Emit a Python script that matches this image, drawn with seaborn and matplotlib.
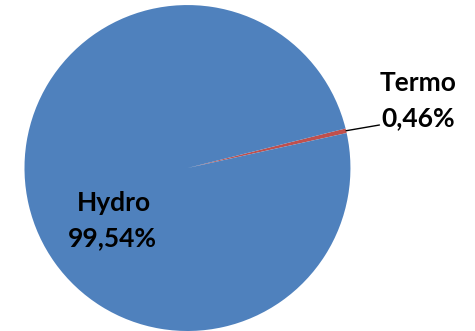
import matplotlib
matplotlib.use("Agg")
import matplotlib.pyplot as plt
import seaborn as sns
import numpy as np

# Generation share by source
sources = ["Termo", "Hydro"]
shares = [0.46, 99.54]
slice_colors = ["#C0504D", "#4F81BD"]

sns.set_theme(style="white")
plt.rcParams["font.family"] = ["Lato", "DejaVu Sans"]

fig = plt.figure(figsize=(4.75, 3.31), dpi=100)
ax = fig.add_axes([0, 0, 1, 1])

start = 12.4
wedges, _ = ax.pie(shares, colors=slice_colors, startangle=start,
                   counterclock=True, radius=1.0,
                   wedgeprops=dict(linewidth=0))

ax.set_aspect("equal")
ax.set_xlim(-1.150, 1.764)
ax.set_ylim(-1.0, 1.031)
ax.axis("off")


def fmt(v):
    return f"{v:.2f}".replace(".", ",") + "%"


# Leader line for the thin slice
w = wedges[0]
mid = np.deg2rad((w.theta1 + w.theta2) / 2)
x0, y0 = np.cos(mid), np.sin(mid)
ax.plot([x0, 1.178], [y0, 0.264], color="black", lw=1.0)

label_kw = dict(ha="center", va="baseline", fontsize=19, fontweight="bold",
                color="black")
ax.text(1.414, 0.474, sources[0], **label_kw)
ax.text(1.414, 0.258, fmt(shares[0]), **label_kw)
ax.text(-0.454, -0.262, sources[1], **label_kw)
ax.text(-0.460, -0.479, fmt(shares[1]), **label_kw)

fig.savefig("out.png", dpi=100)
